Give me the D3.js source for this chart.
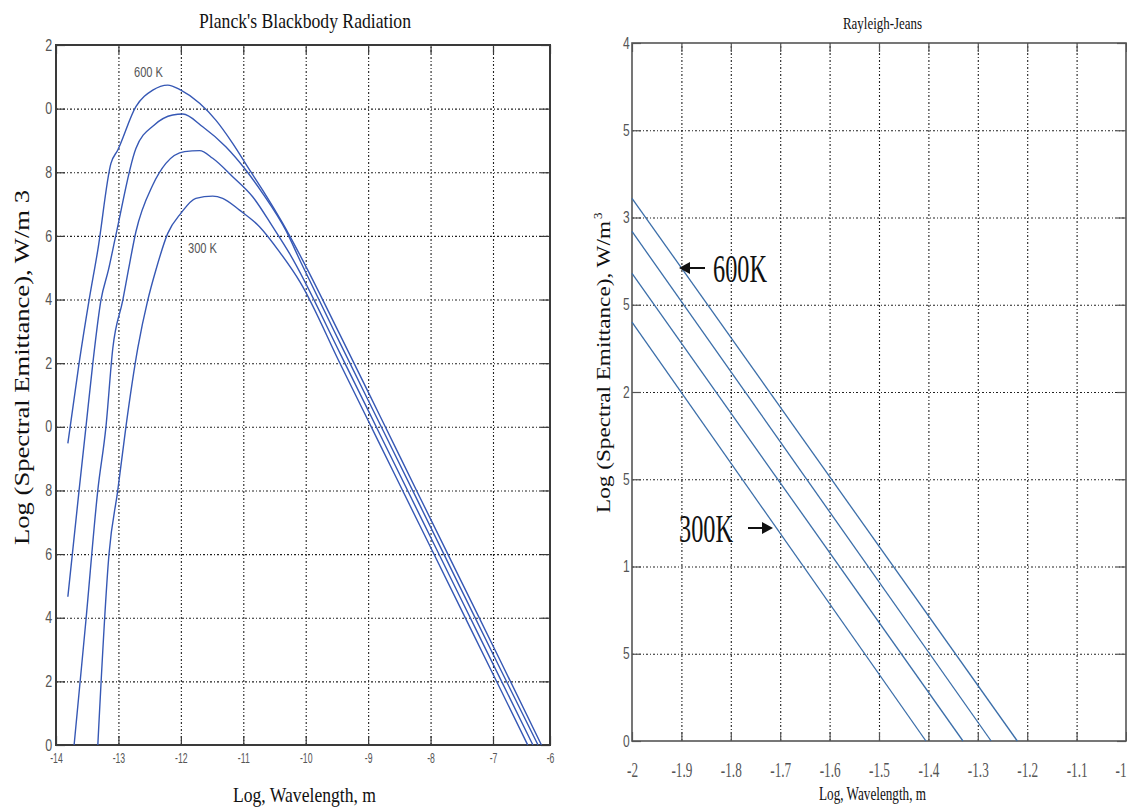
<!DOCTYPE html>
<html><head><meta charset="utf-8">
<script src="https://cdn.jsdelivr.net/npm/d3@7"></script>
<style>body{margin:0;background:#fff}svg{display:block}</style>
</head><body>
<svg id="c" width="1127" height="811"></svg>
<script>
// ---------- Planck panel data ----------
const planckXTicks = [-14,-13,-12,-11,-10,-9,-8,-7,-6];
const planckXTickLabels = ["-14","-13","-12","-11","-10","-9","-8","-7","-6"];
const planckYTicks = [0,2,4,6,8,10,12,14,16,18,20,22];
const planckYTickLabels = ["0","2","4","6","8","0","2","4","6","8","0","2"];
const planck600 = [[-13.81,9.48],[-13.63,12.0],[-13.47,13.98],[-13.33,15.56],[-13.12,18.28],[-13.01,18.70],[-12.72,20.06],[-12.45,20.58],[-12.21,20.74],[-12.0,20.58],[-11.70,20.17],[-11.44,19.64],[-11.17,18.91],[-10.93,18.17],[-10.69,17.44],[-10.37,16.40],[-10.05,15.24],[-9.45,12.89],[-8.81,10.34],[-8.17,7.78],[-7.53,5.23],[-6.88,2.68],[-6.15,0]];
const planck500 = [[-13.81,4.66],[-13.63,8.01],[-13.52,10.0],[-13.41,12.0],[-13.28,13.98],[-13.16,14.93],[-13.04,16.03],[-12.72,18.75],[-12.43,19.48],[-12.13,19.80],[-11.97,19.83],[-11.65,19.43],[-11.28,18.80],[-10.96,18.07],[-10.69,17.34],[-10.32,16.18],[-10.08,15.18],[-9.45,12.63],[-8.81,10.08],[-8.17,7.53],[-7.53,4.97],[-6.88,2.42],[-6.21,0]];
const planck400 = [[-13.71,0],[-13.52,3.93],[-13.33,8.01],[-13.20,10.0],[-13.09,12.47],[-12.93,13.98],[-12.84,14.93],[-12.72,16.13],[-12.45,17.60],[-12.24,18.28],[-11.94,18.65],[-11.70,18.68],[-11.49,18.44],[-11.17,17.86],[-10.85,17.23],[-10.53,16.29],[-10.26,15.45],[-9.45,12.31],[-8.81,9.76],[-8.17,7.21],[-7.53,4.66],[-6.88,2.11],[-6.30,0]];
const planck300 = [[-13.33,0],[-13.15,6.02],[-13.01,8.01],[-12.88,10.0],[-12.69,12.47],[-12.53,13.98],[-12.40,14.93],[-12.21,16.08],[-12.0,16.71],[-11.76,17.18],[-11.49,17.25],[-11.33,17.18],[-11.06,16.81],[-10.74,16.29],[-10.42,15.50],[-10.09,14.55],[-9.45,11.99],[-8.81,9.44],[-8.17,6.89],[-7.53,4.34],[-6.88,1.79],[-6.39,0]];
const planckSeries = [planck600, planck500, planck400, planck300];
const planckLabels = ["600 K","300 K"];

// ---------- Rayleigh-Jeans panel data ----------
const rjXTicks = [-2,-1.9,-1.8,-1.7,-1.6,-1.5,-1.4,-1.3,-1.2,-1.1,-1];
const rjXTickLabels = ["-2","-1.9","-1.8","-1.7","-1.6","-1.5","-1.4","-1.3","-1.2","-1.1","-1"];
const rjYTicks = [0,0.5,1,1.5,2,2.5,3,3.5,4];
const rjYTickLabels = ["0","5","1","5","2","5","3","5","4"];
const rj600 = [[-2,3.11],[-1.22,0]];
const rj500 = [[-2,2.92],[-1.273,0]];
const rj400 = [[-2,2.68],[-1.33,0]];
const rj300 = [[-2,2.40],[-1.405,0]];
const rjSeries = [rj600, rj500, rj400, rj300];
const rjLabels = ["600K","300K"];

const svg = d3.select("#c");

function panel(o){
  const g = svg.append("g");
  const xr = o.x.range(), yr = o.y.range();
  const L = xr[0], R = xr[xr.length-1], B = yr[0], T = yr[1];
  const gridStyle = s => s.attr("stroke","#222").attr("stroke-width",1.1).attr("stroke-dasharray","2,2,1,2");
  // grid
  const gx = g.append("g").attr("transform",`translate(0,${B})`)
    .call(d3.axisBottom(o.x).tickValues(o.xTicks.slice(1,-1)).tickSize(-(B-T)).tickFormat(""));
  gx.select(".domain").remove(); gx.selectAll("line").call(gridStyle);
  const gy = g.append("g").attr("transform",`translate(${L},0)`)
    .call(d3.axisLeft(o.y).tickValues(o.yTicks.slice(1,-1)).tickSize(-(R-L)).tickFormat(""));
  gy.select(".domain").remove(); gy.selectAll("line").call(gridStyle);
  // inside ticks
  const tk = 9;
  const axes = [
    [d3.axisBottom(o.x).tickValues(o.xTicks), `translate(0,${B})`],
    [d3.axisTop(o.x).tickValues(o.xTicks), `translate(0,${T})`],
    [d3.axisLeft(o.y).tickValues(o.yTicks), `translate(${L},0)`],
    [d3.axisRight(o.y).tickValues(o.yTicks), `translate(${R},0)`]
  ];
  axes.forEach(([ax,tr]) => {
    const a = g.append("g").attr("transform",tr).call(ax.tickSizeInner(-tk).tickSizeOuter(0).tickFormat(""));
    a.select(".domain").remove();
    a.selectAll("line").attr("stroke",o.frameColor).attr("stroke-width",1.2);
  });
  // tick labels
  const xl = g.append("g").attr("transform",`translate(0,${B})`)
    .call(d3.axisBottom(o.x).tickValues(o.xTicks).tickSize(0).tickPadding(0).tickFormat((d,i)=>o.xTickLabels[i]));
  xl.select(".domain").remove();
  xl.selectAll("text").attr("y",o.xLabelDy).attr("dy",null)
    .attr("font-family",o.xTickFont).attr("font-size",o.xTickSize).attr("fill",o.tickColor)
    .attr("transform",`scale(${o.xTickSx},1)`)
    .attr("text-anchor",(d,i,n)=> (o.lastAnchorEnd && i===n.length-1) ? "end" : "middle");
  const yl = g.append("g").attr("transform",`translate(${L},0)`)
    .call(d3.axisLeft(o.y).tickValues(o.yTicks).tickSize(0).tickPadding(o.yLabelPad).tickFormat((d,i)=>o.yTickLabels[i]));
  yl.select(".domain").remove();
  yl.selectAll("text").attr("font-family",o.yTickFont).attr("font-size",o.yTickSize).attr("fill",o.tickColor)
    .attr("transform",`scale(${o.yTickSx},1)`);
  // frame
  g.append("rect").attr("x",L).attr("y",T).attr("width",R-L).attr("height",B-T)
    .attr("fill","none").attr("stroke",o.frameColor).attr("stroke-width",o.frameWidth);
  // series
  const line = d3.line().x(d=>o.x(d[0])).y(d=>o.y(d[1])).curve(o.curve);
  g.append("g").selectAll("path").data(o.series).join("path")
    .attr("d",line).attr("fill","none").attr("stroke",o.lineColor).attr("stroke-width",o.lineWidth);
  return g;
}

// ---------- Left: Planck ----------
const xP = d3.scaleLinear().domain([-14,-7,-6]).range([56,493,550]);
const yP = d3.scaleLinear().domain([0,22]).range([745,45]);
panel({x:xP,y:yP,xTicks:planckXTicks,xTickLabels:planckXTickLabels,yTicks:planckYTicks,yTickLabels:planckYTickLabels,
  frameColor:"#3a3a3a",frameWidth:2,tickColor:"#555",
  xTickFont:"Liberation Sans, Arial, sans-serif",xTickSize:14,xTickSx:0.62,xLabelDy:18,lastAnchorEnd:false,
  yTickFont:"Liberation Sans, Arial, sans-serif",yTickSize:16,yTickSx:0.78,yLabelPad:5,
  series:planckSeries,lineColor:"#3658b5",lineWidth:1.4,curve:d3.curveMonotoneX});

svg.append("text").attr("x",199).attr("y",28).attr("textLength",212).attr("lengthAdjust","spacingAndGlyphs")
  .attr("font-family","Liberation Serif, Times New Roman, serif").attr("font-size",21).attr("fill","#111")
  .text("Planck's Blackbody Radiation");
svg.append("text").attr("x",233).attr("y",802).attr("textLength",143).attr("lengthAdjust","spacingAndGlyphs")
  .attr("font-family","Liberation Serif, Times New Roman, serif").attr("font-size",22).attr("fill","#111")
  .text("Log, Wavelength, m");
svg.append("text").attr("transform","translate(29,545) rotate(-90)").attr("textLength",355).attr("lengthAdjust","spacingAndGlyphs")
  .attr("font-family","Liberation Serif, Times New Roman, serif").attr("font-size",21).attr("fill","#111")
  .text("Log (Spectral Emittance),  W/m 3");
svg.append("text").attr("x",134).attr("y",77).attr("textLength",29).attr("lengthAdjust","spacingAndGlyphs")
  .attr("font-family","Liberation Sans, Arial, sans-serif").attr("font-size",15).attr("fill","#555").text(planckLabels[0]);
svg.append("text").attr("x",188).attr("y",253).attr("textLength",29).attr("lengthAdjust","spacingAndGlyphs")
  .attr("font-family","Liberation Sans, Arial, sans-serif").attr("font-size",15).attr("fill","#555").text(planckLabels[1]);

// ---------- Right: Rayleigh-Jeans ----------
const xR = d3.scaleLinear().domain([-2,-1]).range([632,1126]);
const yR = d3.scaleLinear().domain([0,4]).range([741,43]);
panel({x:xR,y:yR,xTicks:rjXTicks,xTickLabels:rjXTickLabels,yTicks:rjYTicks,yTickLabels:rjYTickLabels,
  frameColor:"#555",frameWidth:1.6,tickColor:"#555",
  xTickFont:"Liberation Serif, Times New Roman, serif",xTickSize:20,xTickSx:0.66,xLabelDy:36,lastAnchorEnd:true,
  yTickFont:"Liberation Sans, Arial, sans-serif",yTickSize:16,yTickSx:0.75,yLabelPad:3,
  series:rjSeries,lineColor:"#3b6ea9",lineWidth:1.3,curve:d3.curveLinear});

svg.append("text").attr("x",843).attr("y",29).attr("textLength",79).attr("lengthAdjust","spacingAndGlyphs")
  .attr("font-family","Liberation Serif, Times New Roman, serif").attr("font-size",17).attr("fill","#111")
  .text("Rayleigh-Jeans");
svg.append("text").attr("x",819).attr("y",800).attr("textLength",107).attr("lengthAdjust","spacingAndGlyphs")
  .attr("font-family","Liberation Serif, Times New Roman, serif").attr("font-size",19).attr("fill","#111")
  .text("Log, Wavelength, m");
const yLab = svg.append("g").attr("transform","translate(610,513) rotate(-90)");
yLab.append("text").attr("x",0).attr("y",0).attr("textLength",292).attr("lengthAdjust","spacingAndGlyphs")
  .attr("font-family","Liberation Serif, Times New Roman, serif").attr("font-size",18).attr("fill","#111")
  .text("Log (Spectral Emittance),  W/m");
yLab.append("text").attr("x",294).attr("y",-8).attr("font-family","Liberation Serif, Times New Roman, serif")
  .attr("font-size",13).attr("fill","#111").text("3");

// annotations with arrows
svg.append("text").attr("x",713).attr("y",282).attr("textLength",54).attr("lengthAdjust","spacingAndGlyphs")
  .attr("font-family","Liberation Serif, Times New Roman, serif").attr("font-size",40).attr("fill","#111").text(rjLabels[0]);
svg.append("text").attr("x",679).attr("y",542).attr("textLength",54).attr("lengthAdjust","spacingAndGlyphs")
  .attr("font-family","Liberation Serif, Times New Roman, serif").attr("font-size",40).attr("fill","#111").text(rjLabels[1]);
function arrow(x1,x2,y){ // tail x1 -> tip x2
  const dir = Math.sign(x2-x1), hl = 11, hw = 6;
  svg.append("line").attr("x1",x1).attr("x2",x2-dir*hl+dir*1).attr("y1",y).attr("y2",y).attr("stroke","#111").attr("stroke-width",2);
  svg.append("path").attr("d",`M${x2},${y} L${x2-dir*hl},${y-hw} L${x2-dir*hl},${y+hw} Z`).attr("fill","#111");
}
arrow(705,679,268);
arrow(748,773,528);
</script>
</body></html>
